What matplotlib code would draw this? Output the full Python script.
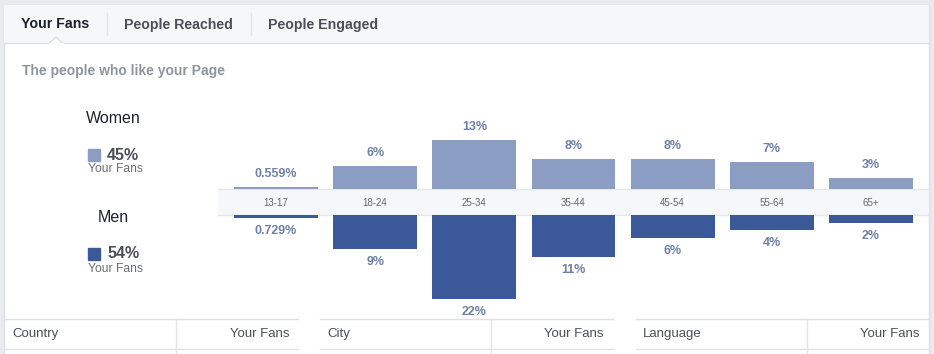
#!/usr/bin/env python
# coding:UTF-8
import matplotlib
matplotlib.use("Agg")
import matplotlib.pyplot as plt
from matplotlib.patches import Rectangle, Polygon

plt.rcParams["font.family"] = ["Liberation Sans", "DejaVu Sans"]

# data
age_groups = ["13-17", "18-24", "25-34", "35-44", "45-54", "55-64", "65+"]
women = [0.559, 6, 13, 8, 8, 7, 3]
men = [0.729, 9, 22, 11, 6, 4, 2]
women_total = "45%"
men_total = "54%"
tabs = ["Your Fans", "People Reached", "People Engaged"]
tables = ["Country", "City", "Language"]

W, H = 934, 354
c_women = "#8b9dc3"
c_men = "#3b5998"
c_label = "#6f80a6"
px_per_pct = 3.8


def fmt(v):
    if v < 1:
        return "%.3g%%" % v
    return "%d%%" % v


def fig_box(x0, y0, x1, y1):
    # pixel box (from top left) -> figure fraction rect
    return [x0 / W, 1 - y1 / H, (x1 - x0) / W, (y1 - y0) / H]


fig = plt.figure(figsize=(W / 100, H / 100), dpi=100)

# background / decoration layer in pixel coordinates
bg = fig.add_axes([0, 0, 1, 1])
bg.set_xlim(0, W)
bg.set_ylim(H, 0)
bg.axis("off")
bg.add_patch(Rectangle((0, 0), W, H, color="#e9ebee", zorder=0))
bg.add_patch(Rectangle((4, 5), 925, H, facecolor="white", edgecolor="#dddfe2", lw=1, zorder=1))
bg.add_patch(Rectangle((4, 5), 925, 38, facecolor="#f6f7f9", edgecolor="none", zorder=2))
bg.plot([4, 929], [43, 43], color="#dddfe2", lw=1, zorder=3)
bg.add_patch(Polygon([(49, 43.5), (56, 37), (63, 43.5)], closed=True, facecolor="white",
                     edgecolor="#dddfe2", lw=1, zorder=4))
bg.plot([49.5, 62.5], [43.6, 43.6], color="white", lw=1.5, zorder=5)
for sx in [107, 251]:
    bg.plot([sx, sx], [13, 35], color="#e3e4e7", lw=1, zorder=3)

tab_x = [21, 124, 268]
for i, t in enumerate(tabs):
    bg.text(tab_x[i], 24.5, t, fontsize=10.2, fontweight="bold", va="center", ha="left",
            color="#1d2129" if i == 0 else "#4b4f56", zorder=6)

bg.text(22, 70.5, "The people who like your Page", fontsize=10, fontweight="bold",
        color="#90949c", va="center", ha="left", zorder=6)

# left legend
for name, total, col, y in [("Women", women_total, c_women, 118), ("Men", men_total, c_men, 217)]:
    bg.text(113, y + 0.5, name, fontsize=11.5, color="#1d2129", ha="center", va="center", zorder=6)
    bg.add_patch(Rectangle((88, y + 31), 12, 12, color=col, zorder=6))
    bg.text(107, y + 37, total, fontsize=11.5, fontweight="bold", color="#4b4f56",
            ha="left", va="center", zorder=6)
    bg.text(88, y + 51.5, "Your Fans", fontsize=8.7, color="#6b6e73", ha="left", va="center", zorder=6)

# band with age labels
bg.add_patch(Rectangle((218, 189), 711, 26, facecolor="#f6f7f8", edgecolor="none", zorder=2))
bg.plot([218, 929], [189, 189], color="#e6e7ea", lw=1, zorder=3)
bg.plot([218, 929], [215, 215], color="#e6e7ea", lw=1, zorder=3)

# bottom tables
tab_spans = [(5, 298, 176), (320, 613, 491), (636, 929, 807)]
for name, (x0, x1, xd) in zip(tables, tab_spans):
    bg.plot([x0, x1], [319, 319], color="#dddfe2", lw=1, zorder=3)
    bg.plot([x0, x1], [349, 349], color="#e3e4e7", lw=1, zorder=3)
    bg.plot([xd, xd], [319, 354], color="#e3e4e7", lw=1, zorder=3)
    bg.text(x0 + 7, 334, name, fontsize=9.5, color="#4b4f56", ha="left", va="center", zorder=6)
    bg.text(x1 - 9, 334, "Your Fans", fontsize=9.5, color="#4b4f56", ha="right", va="center", zorder=6)

# bar axes
x = list(range(len(age_groups)))
xlim = (-0.585, len(age_groups) - 1 + 0.585)

ax_w = fig.add_axes(fig_box(218, 100, 929, 189))
ax_w.patch.set_alpha(0)
ax_w.bar(x, women, width=0.845, color=c_women, zorder=3)
ax_w.set_xlim(*xlim)
ax_w.set_ylim(0, 89 / px_per_pct)
for xi, v in zip(x, women):
    ax_w.annotate(fmt(v), (xi, v), xytext=(0, 7), textcoords="offset pixels",
                  ha="center", va="bottom", fontsize=9, fontweight="bold", color=c_label)
ax_w.set_xticks(x, age_groups)
ax_w.tick_params(axis="x", length=0, pad=6.5, labelsize=7, labelcolor="#666666")
ax_w.set_yticks([])
for s in ax_w.spines.values():
    s.set_visible(False)

ax_m = fig.add_axes(fig_box(218, 215, 929, 318))
ax_m.patch.set_alpha(0)
ax_m.bar(x, men, width=0.845, color=c_men, zorder=3)
ax_m.set_xlim(*xlim)
ax_m.set_ylim(103 / px_per_pct, 0)
for xi, v in zip(x, men):
    ax_m.annotate(fmt(v), (xi, v), xytext=(0, -7), textcoords="offset pixels",
                  ha="center", va="top", fontsize=9, fontweight="bold", color=c_label,
                  annotation_clip=False)
ax_m.set_xticks([])
ax_m.set_yticks([])
for s in ax_m.spines.values():
    s.set_visible(False)

plt.savefig("out.png", dpi=100)
